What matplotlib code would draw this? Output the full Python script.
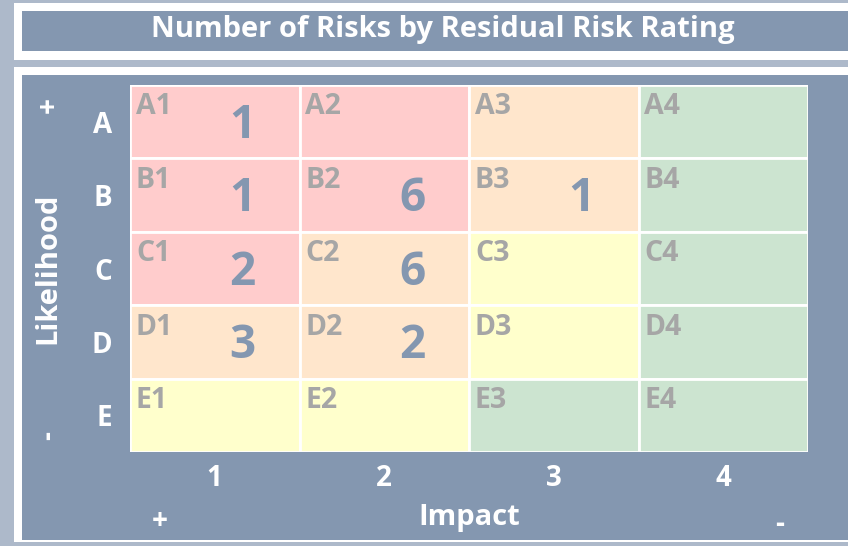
import matplotlib.pyplot as plt
from matplotlib.patches import Rectangle

plt.rcParams['font.family'] = ['Open Sans', 'DejaVu Sans']
plt.rcParams['font.weight'] = 'bold'

# Risk matrix data
rows = ['A', 'B', 'C', 'D', 'E']
cols = ['1', '2', '3', '4']
ratings = [
    ['red', 'red', 'orange', 'green'],
    ['red', 'red', 'orange', 'green'],
    ['red', 'orange', 'yellow', 'green'],
    ['orange', 'orange', 'yellow', 'green'],
    ['yellow', 'yellow', 'green', 'green'],
]
counts = [
    [1, 0, 0, 0],
    [1, 6, 1, 0],
    [2, 6, 0, 0],
    [3, 2, 0, 0],
    [0, 0, 0, 0],
]

rating_colors = {'red': '#FFCCCC', 'orange': '#FFE6CC',
                 'yellow': '#FFFFCC', 'green': '#CCE4D0'}
slate = '#8497B0'
light = '#ADB9CA'
W, H = 848, 546

fig = plt.figure(figsize=(W / 100, H / 100), dpi=100, facecolor=light)

# background frames drawn in pixel coordinates
bg = fig.add_axes([0, 0, 1, 1])
bg.set_xlim(0, W)
bg.set_ylim(H, 0)
bg.axis('off')
bg.add_patch(Rectangle((14, 3), W, 57, facecolor='white', edgecolor='none'))
bg.add_patch(Rectangle((22, 11), W, 40, facecolor=slate, edgecolor='none'))
bg.add_patch(Rectangle((14, 67), W, 475, facecolor='white', edgecolor='none'))
bg.add_patch(Rectangle((22, 75), W, 465, facecolor=slate, edgecolor='none'))
bg.text(443, 30, 'Number of Risks by Residual Risk Rating', color='white',
        fontsize=21, ha='center', va='center')

# side markers
bg.text(48, 268, 'Likelihood', color='white', fontsize=21, rotation=90,
        ha='center', va='center')
bg.text(49, 105, '+', color='white', fontsize=20, rotation=90, ha='center', va='center')
bg.text(49, 435, '-', color='white', fontsize=20, rotation=90, ha='center', va='center')
bg.text(160, 522, '+', color='white', fontsize=20, ha='center', va='center')
bg.text(780, 524, '-', color='white', fontsize=20, ha='center', va='center')

# grid axes
ax = fig.add_axes([130 / W, 1 - 452 / H, 678 / W, 367 / H])
ax.set_xlim(0, len(cols))
ax.set_ylim(len(rows), 0)
ax.set_facecolor(slate)
for s in ax.spines.values():
    s.set_visible(False)

for i, r in enumerate(rows):
    for j, c in enumerate(cols):
        ax.add_patch(Rectangle((j, i), 1, 1, facecolor=rating_colors[ratings[i][j]],
                               edgecolor='white', linewidth=2))
        ax.text(j + 0.035, i + 0.1, r + c, color='#A6A6A6', fontsize=20.5,
                ha='left', va='top')
        if counts[i][j]:
            ax.text(j + 0.665, i + 0.55, str(counts[i][j]), color=slate,
                    fontsize=33, ha='center', va='center')

ax.set_xticks([j + 0.5 for j in range(len(cols))])
ax.set_xticklabels(cols, color='white', fontsize=20)
ax.set_yticks([i + 0.5 for i in range(len(rows))])
ax.set_yticklabels(rows, color='white', fontsize=20)
ax.tick_params(length=0)
ax.tick_params(axis='x', pad=9)
ax.tick_params(axis='y', pad=13)

ax.text(0.5, (452 - 518) / 367, 'Impact', transform=ax.transAxes, color='white',
        fontsize=21, ha='center', va='center')

fig.savefig('out.png', dpi=100, facecolor=light)
